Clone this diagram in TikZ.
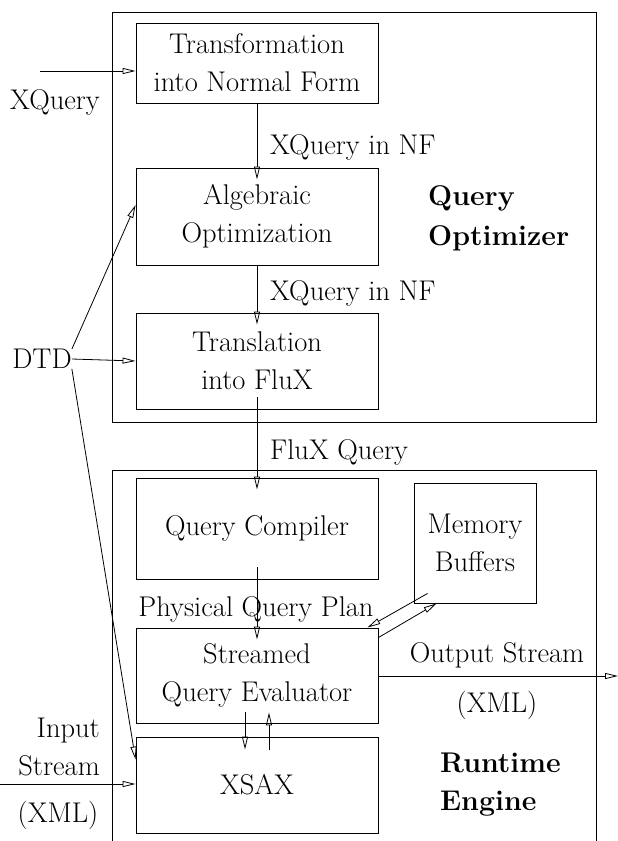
\documentclass[tikz,border=0pt]{standalone}
\usetikzlibrary{arrows.meta}
\tikzset{
  block/.style={draw, line width=0.9pt, minimum width=242pt, align=center},
  lbl/.style={inner sep=0pt, align=center},
  flow/.style={-{Triangle[open,length=13pt,width=6pt]}, line width=0.8pt},
  deep/.style={shorten <=-12pt, shorten >=-12pt},
  tipin/.style={shorten >=-12pt}
}
\begin{document}
\begin{tikzpicture}[x=1pt, y=-1pt,
    every node/.append style={font=\fontsize{28.5}{38}\selectfont}]
  \useasboundingbox (0,0) rectangle (618,841);
  % frames
  \draw[line width=0.9pt] (112,12) rectangle (596,422);
  \draw[line width=0.9pt] (112,841) |- (596,470) -- (596,841);
  % optimizer
  \node[block, minimum height=80pt] (trans) at (257,63) {Transformation\\into Normal Form};
  \node[block, minimum height=97pt] (alg) at (257,216.5) {Algebraic\\Optimization};
  \node[block, minimum height=96pt] (transl) at (257,361) {Translation\\into FluX};
  \node[lbl, anchor=west, align=left, font=\fontsize{28.5}{40}\selectfont\bfseries] (qopt) at (428,218) {Query\\Optimizer};
  % runtime engine
  \node[block, minimum height=101pt] (qc) at (257,528.5) {Query Compiler};
  \node[block, minimum width=122pt, minimum height=120pt] (mem) at (475,543) {Memory\\Buffers};
  \node[block, minimum height=95pt] (seval) at (257,675.5) {Streamed\\Query Evaluator};
  \node[block, minimum height=96pt] (xsax) at (257,785) {XSAX};
  \node[lbl, anchor=west, align=left, font=\fontsize{28.5}{38}\selectfont\bfseries] (rteng) at (440,785) {Runtime\\Engine};
  % labels
  \node[lbl] (xq) at (55,102) {XQuery};
  \node[lbl] (dtd) at (42,359) {DTD};
  \node[lbl, anchor=west] (nf1) at (270,147) {XQuery in NF};
  \node[lbl, anchor=west] (nf2) at (270,293) {XQuery in NF};
  \node[lbl, anchor=west] (fq) at (270,452) {FluX Query};
  \node[lbl] (pqp) at (256,609) {Physical Query Plan};
  \node[lbl] (outs) at (497,655) {Output Stream};
  \node[lbl] (outx) at (497,705) {(XML)};
  \node[lbl, anchor=east, align=right] (ins) at (100,747) {Input\\Stream};
  \node[lbl] (inx) at (58,815) {(XML)};
  \coordinate (xqin) at (40,71);
  \coordinate (instr) at (0,784);
  \coordinate (outstr) at (618,676);
  % connectors
  \draw[flow] (xqin) -- (xqin -| trans.west);
  \draw[flow, tipin] (trans.south) -- (alg.north);
  \draw[flow, tipin] (alg.south) -- (transl.north);
  \draw[flow, deep] (transl.south) -- (qc.north);
  \draw[flow, deep] (qc.south) -- (seval.north);
  \draw[flow] (dtd.north east) -- ([yshift=11.5pt]alg.west);
  \draw[flow] (dtd.east) -- (transl.west);
  \draw[flow] (dtd.south east) -- ([yshift=-23pt]xsax.north west);
  \draw[flow] ([xshift=14pt,yshift=10pt]mem.south west) -- ([xshift=-11pt]seval.north east);
  \draw[flow] ([yshift=-10pt]seval.north east) -- ([xshift=23pt]mem.south west);
  \draw[flow] (seval.east |- outstr) -- (outstr);
  \draw[flow] ([xshift=-12pt,yshift=11pt]seval.south) -- ([xshift=-12pt,yshift=-13pt]xsax.north);
  \draw[flow] ([xshift=12pt,yshift=-13pt]xsax.north) -- ([xshift=12pt,yshift=11pt]seval.south);
  \draw[flow] (instr) -- (instr -| xsax.west);
\end{tikzpicture}
\end{document}
